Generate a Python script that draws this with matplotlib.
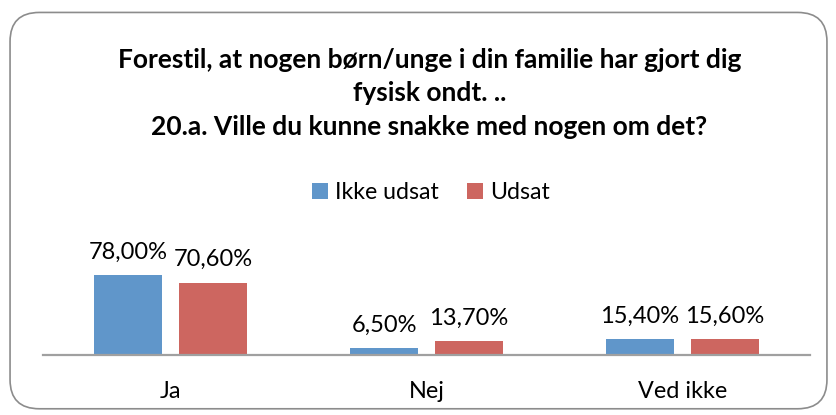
import numpy as np
import matplotlib.pyplot as plt
from matplotlib.patches import FancyBboxPatch

categories = ["Ja", "Nej", "Ved ikke"]
ikke_udsat = [78.0, 6.5, 15.4]
udsat = [70.6, 13.7, 15.6]
series_names = ["Ikke udsat", "Udsat"]

plt.rcParams['font.family'] = ['Lato', 'DejaVu Sans']

fig = plt.figure(figsize=(8.37, 4.15), dpi=100)

# rounded outer border
border = FancyBboxPatch((0.012, 0.015), 0.976, 0.955,
                        boxstyle="round,pad=0,rounding_size=0.035",
                        transform=fig.transFigure, fill=False,
                        edgecolor="#8c8c8c", linewidth=1.2, mutation_aspect=2.0)
fig.patches.append(border)

title_lines = ["Forestil, at nogen børn/unge i din familie har gjort dig",
               "fysisk ondt. ..",
               "20.a. Ville du kunne snakke med nogen om det?"]
for line, yy in zip(title_lines, (0.855, 0.776, 0.694)):
    fig.text(0.513, yy, line, ha="center", va="center", fontsize=19, fontweight="bold")

# axes: x from 43 to 810 px, baseline at y=355 px
ax = fig.add_axes([43 / 837, (415 - 355) / 415, 767 / 837, 125 / 415])
x = np.arange(len(categories))
w = 0.266
off = 0.166
b1 = ax.bar(x - off, ikke_udsat, w, color="#6096CA", label=series_names[0])
b2 = ax.bar(x + off, udsat, w, color="#CD6660", label=series_names[1])

for bars, vals in ((b1, ikke_udsat), (b2, udsat)):
    for r, v in zip(bars, vals):
        ax.annotate(("%.2f%%" % v).replace(".", ","),
                    (r.get_x() + r.get_width() / 2, v), xytext=(0, 9),
                    textcoords="offset points", ha="center", va="bottom", fontsize=17)

ax.set_xlim(-0.5, 2.5)
ax.set_ylim(0, 121.8)
ax.set_yticks([])
ax.set_xticks(x)
ax.set_xticklabels(categories, fontsize=16.8)
ax.tick_params(axis="x", length=0, pad=19)
for s in ("top", "right", "left"):
    ax.spines[s].set_visible(False)
ax.spines["bottom"].set_color("#a0a0a0")
ax.spines["bottom"].set_linewidth(1.6)
ax.patch.set_visible(False)

fig.legend(handles=[b1, b2], labels=series_names, loc="center",
           bbox_to_anchor=(0.515, 0.535), ncol=2, frameon=False, fontsize=16.7,
           handlelength=0.7, handleheight=0.7, handletextpad=0.3, columnspacing=1.2)

fig.savefig("out.png", dpi=100)
